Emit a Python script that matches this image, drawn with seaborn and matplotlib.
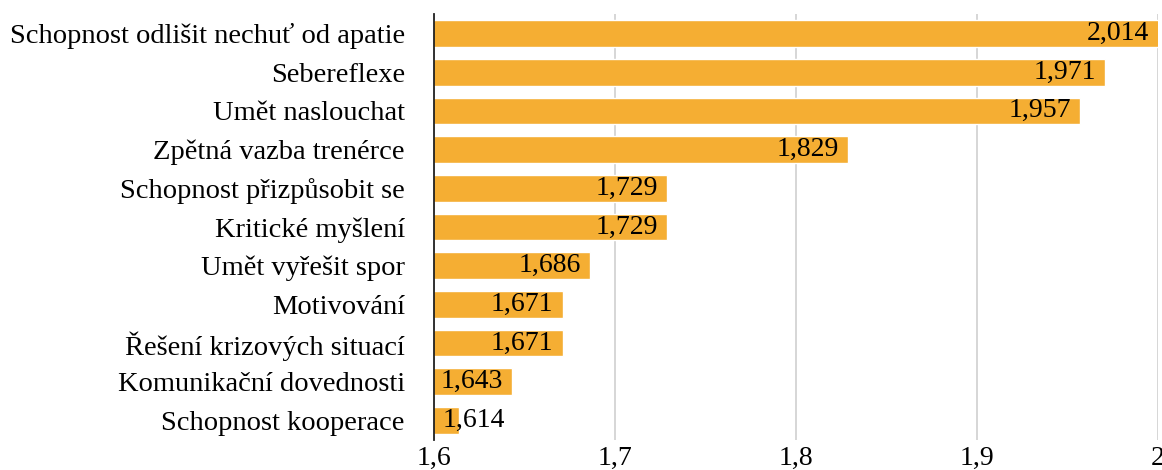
import matplotlib
matplotlib.use("Agg")
import matplotlib.pyplot as plt
import seaborn as sns
import pandas as pd

categories = [
    "Schopnost odlišit nechuť od apatie",
    "Sebereflexe",
    "Umět naslouchat",
    "Zpětná vazba trenérce",
    "Schopnost přizpůsobit se",
    "Kritické myšlení",
    "Umět vyřešit spor",
    "Motivování",
    "Řešení krizových situací",
    "Komunikační dovednosti",
    "Schopnost kooperace",
]
values = [2.014, 1.971, 1.957, 1.829, 1.729, 1.729, 1.686, 1.671, 1.671, 1.643, 1.614]
x_ticks = [1.6, 1.7, 1.8, 1.9, 2.0]
x_tick_labels = ["1,6", "1,7", "1,8", "1,9", "2"]

df = pd.DataFrame({"skill": categories, "score": values})

sns.set_theme(style="white")
plt.rcParams["font.family"] = ["Liberation Serif", "DejaVu Serif"]
plt.rcParams["text.color"] = "black"
plt.rcParams["xtick.color"] = "black"
plt.rcParams["ytick.color"] = "black"

fig = plt.figure(figsize=(11.62, 4.70), dpi=100)
ax = fig.add_axes([0.3735, 0.064, 0.623, 0.906])

bar_color = "#F5AE33"
sns.barplot(data=df, x="score", y="skill", orient="h", color=bar_color,
            width=0.69, saturation=1, ax=ax)

ax.set_xlim(1.6, 2.0)
ax.set_ylim(len(categories) - 0.5, -0.5)
ax.set_xticks(x_ticks)
ax.set_xticklabels(x_tick_labels, fontsize=20)
ax.tick_params(axis="y", labelsize=20.5, length=0, pad=21, labelcolor="black")
ax.tick_params(axis="x", length=0, pad=4.5, labelcolor="black")
ax.set_xlabel("")
ax.set_ylabel("")

ax.grid(axis="x", color="#d0d0d0", linewidth=1.2)
ax.set_axisbelow(True)
for side in ["top", "right", "bottom"]:
    ax.spines[side].set_visible(False)
ax.spines["left"].set_color("#222222")
ax.spines["left"].set_linewidth(1.3)

# value labels at the inner end of each bar; short bars get the label after their start
for i, v in enumerate(values):
    text = f"{v:.3f}".replace(".", ",")
    end = min(v, 2.0)
    if end - 1.6 < 0.04:
        ax.text(1.6 + 0.005, i, text, ha="left", va="center", fontsize=20, color="black")
    else:
        ax.text(end - 0.005, i, text, ha="right", va="center", fontsize=20, color="black")

fig.savefig("out.png", dpi=100)
